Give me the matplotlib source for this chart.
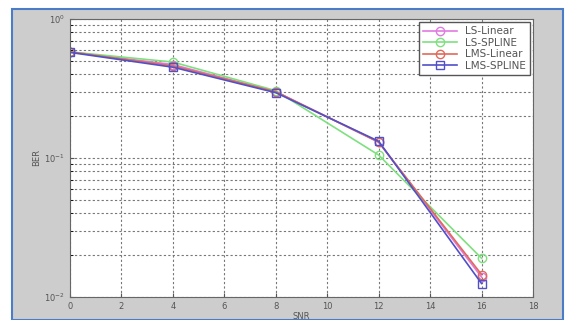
import matplotlib
matplotlib.use("Agg")
import matplotlib.pyplot as plt
from matplotlib.patches import Rectangle

snr = [0, 4, 8, 12, 16]
ls_linear = [0.58, 0.47, 0.30, 0.13, 0.0139]
ls_spline = [0.58, 0.49, 0.305, 0.105, 0.019]
lms_linear = [0.58, 0.46, 0.30, 0.13, 0.0145]
lms_spline = [0.575, 0.45, 0.295, 0.132, 0.0125]
labels = ["LS-Linear", "LS-SPLINE", "LMS-Linear", "LMS-SPLINE"]
xticks = list(range(0, 20, 2))

W, H = 565, 320
fig = plt.figure(figsize=(W / 100, H / 100), dpi=100, facecolor="white")
fig.patches.append(Rectangle((12 / W, 0), (563 - 12) / W, (H - 9) / H,
                             transform=fig.transFigure, facecolor="#cdcdcd",
                             edgecolor="#4a7cc8", linewidth=1.5, zorder=-10))

ax = fig.add_axes([70 / W, (H - 297) / H, (533 - 70) / W, (297 - 19) / H])
ax.set_zorder(5)
ax.set_facecolor("white")

series = [ls_linear, ls_spline, lms_linear, lms_spline]
colors = ["#e07ae0", "#7ee07e", "#e06a5a", "#5050c8"]
markers = ["o", "o", "o", "s"]
for vals, c, m, lab in zip(series, colors, markers, labels):
    ax.semilogy(snr, vals, color=c, marker=m, markersize=6, markerfacecolor="none",
                markeredgecolor=c, linewidth=1.2, label=lab)

ax.set_xlim(0, 18)
ax.set_ylim(1e-2, 1e0)
ax.set_xticks(xticks)
ax.grid(True, which="major", linestyle=(0, (2, 2)), color="#777777", linewidth=0.8)
ax.grid(True, which="minor", axis="y", linestyle=(0, (2, 2)), color="#777777", linewidth=0.8)
ax.tick_params(labelsize=6, colors="#555555", direction="in", length=3)
ax.tick_params(which="minor", direction="in", length=2)
for s in ax.spines.values():
    s.set_color("#666666")
ax.set_xlabel("SNR", fontsize=6, color="#555555", labelpad=1)
ax.set_ylabel("BER", fontsize=6, color="#555555", labelpad=2)

leg = ax.legend(loc="upper right", fontsize=7.5, frameon=True, fancybox=False,
                edgecolor="#555555", borderaxespad=0.3, handlelength=3.2,
                labelspacing=0.15, borderpad=0.4, framealpha=1)
for t in leg.get_texts():
    t.set_color("#555555")

fig.savefig("out.png", dpi=100, facecolor=fig.get_facecolor())
